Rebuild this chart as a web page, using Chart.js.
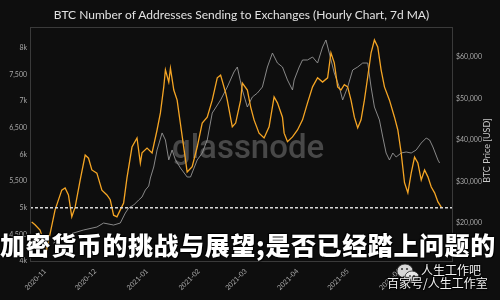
<!DOCTYPE html>
<html>
<head>
<meta charset="utf-8">
<script src="https://cdn.jsdelivr.net/npm/chart.js@4.4.1/dist/chart.umd.min.js"></script>
<style>
  html, body { margin:0; padding:0; background:#0e0e0e; }
  #wrap { position:relative; width:500px; height:300px; overflow:hidden; background:#0e0e0e; }
  canvas { display:block; }
  .title { position:absolute; left:30px; width:423px; top:7px; text-align:center; font-family:Lato; font-size:12px; line-height:15px; color:#e2e2e2; white-space:nowrap; }
  .cn-banner { position:absolute; left:0; top:227px; font-family:"Noto Sans CJK SC"; font-weight:900; font-size:25px; line-height:34px; color:#fff; white-space:nowrap; letter-spacing:0.6px; text-shadow:0 0 2px #000, 1px 1px 1px #000, -1px -1px 1px #000; }
  .wm { position:absolute; font-family:"Noto Sans CJK SC"; font-size:12px; line-height:14px; color:#f2f2f2; white-space:nowrap; text-shadow:0 0 2px #000, 1px 1px 1px #000, -1px -1px 1px #000; }
</style>
</head>
<body>
<div id="wrap">
  <canvas id="c" width="500" height="300"></canvas>
  <div class="title" id="title"></div>
  <div class="cn-banner">加密货币的挑战与展望;是否已经踏上问题的</div>
  <svg style="position:absolute;left:396px;top:262px" width="26" height="24">
    <ellipse cx="9" cy="9" rx="8" ry="7" fill="#d8d8d8" stroke="#222" stroke-width="0.8"/>
    <ellipse cx="16" cy="15" rx="7" ry="6" fill="#e8e8e8" stroke="#222" stroke-width="0.8"/>
    <circle cx="6" cy="7" r="1" fill="#333"/><circle cx="11" cy="7" r="1" fill="#333"/>
    <circle cx="14" cy="14" r="0.9" fill="#333"/><circle cx="18" cy="14" r="0.9" fill="#333"/>
  </svg>
  <div class="wm" style="left:421px;top:263px;">人生工作吧</div>
  <div class="wm" style="left:387px;top:276px;">百家号/人生工作室</div>
</div>
<script>
// ---- data ----
const addrDates = ["2020-10-24","2020-10-26","2020-10-29","2020-11-02","2020-11-07","2020-11-11","2020-11-13","2020-11-15","2020-11-17","2020-11-19","2020-11-22","2020-11-25","2020-11-27","2020-11-29","2020-12-02","2020-12-05","2020-12-08","2020-12-10","2020-12-12","2020-12-14","2020-12-16","2020-12-18","2020-12-20","2020-12-23","2020-12-26","2020-12-28","2020-12-29","2021-01-01","2021-01-04","2021-01-07","2021-01-09","2021-01-11","2021-01-12","2021-01-14","2021-01-15","2021-01-17","2021-01-19","2021-01-21","2021-01-24","2021-01-25","2021-01-28","2021-01-31","2021-02-03","2021-02-06","2021-02-09","2021-02-12","2021-02-14","2021-02-17","2021-02-18","2021-02-21","2021-02-23","2021-02-26","2021-02-27","2021-03-02","2021-03-04","2021-03-06","2021-03-09","2021-03-12","2021-03-15","2021-03-18","2021-03-20","2021-03-23","2021-03-24","2021-03-26","2021-03-29","2021-04-01","2021-04-04","2021-04-07","2021-04-10","2021-04-13","2021-04-16","2021-04-19","2021-04-21","2021-04-23","2021-04-25","2021-04-27","2021-04-29","2021-05-01","2021-05-03","2021-05-05","2021-05-07","2021-05-09","2021-05-11","2021-05-13","2021-05-15","2021-05-17","2021-05-19","2021-05-21","2021-05-23","2021-05-26","2021-05-29","2021-05-31","2021-06-02","2021-06-04","2021-06-06","2021-06-08","2021-06-10","2021-06-12","2021-06-14","2021-06-16","2021-06-18","2021-06-20","2021-06-22","2021-06-24","2021-06-26"];
const addresses = [4730,4680,4580,4210,4960,5330,5370,5240,4830,5010,5520,5990,5930,5710,5650,5330,5240,5150,4860,4830,4960,5090,5560,6140,6310,5840,6030,6120,6030,6460,6780,7270,7590,7360,7620,7210,7020,6570,5900,5670,5770,6140,6590,6700,7020,7440,7490,7160,7020,6520,6590,7020,7340,7210,6890,6650,6400,6310,6520,7080,6970,6700,6400,6240,6330,6460,6650,6970,7270,7440,7360,7440,7910,7720,7270,7210,7310,7270,7020,6700,6500,6650,7020,7460,7910,8150,8020,7590,7270,7020,6700,6460,6030,5470,5280,5650,5950,5840,5520,5710,5580,5390,5280,5110,5010];

const priceDates = ["2020-11-06","2020-11-12","2020-11-16","2020-11-24","2020-12-02","2020-12-06","2020-12-12","2020-12-16","2020-12-19","2020-12-21","2020-12-24","2020-12-27","2020-12-29","2020-12-31","2021-01-02","2021-01-03","2021-01-05","2021-01-07","2021-01-10","2021-01-12","2021-01-14","2021-01-16","2021-01-18","2021-01-21","2021-01-25","2021-01-27","2021-01-31","2021-02-03","2021-02-06","2021-02-09","2021-02-14","2021-02-18","2021-02-22","2021-02-24","2021-02-27","2021-03-02","2021-03-05","2021-03-08","2021-03-11","2021-03-14","2021-03-17","2021-03-20","2021-03-23","2021-03-26","2021-03-29","2021-03-30","2021-04-02","2021-04-04","2021-04-07","2021-04-10","2021-04-13","2021-04-16","2021-04-18","2021-04-20","2021-04-23","2021-04-26","2021-04-28","2021-05-01","2021-05-04","2021-05-07","2021-05-10","2021-05-13","2021-05-15","2021-05-17","2021-05-20","2021-05-22","2021-05-24","2021-05-26","2021-05-28","2021-05-30","2021-06-02","2021-06-05","2021-06-08","2021-06-11","2021-06-14","2021-06-17","2021-06-19","2021-06-21","2021-06-24","2021-06-25"];
const btcPrice = [15170,16620,17340,18310,19030,19990,19510,19990,22400,23610,24330,25540,26260,27950,28910,30840,33490,37600,41700,40000,35200,37600,35200,33250,31080,31080,35180,36860,40000,46500,49640,52770,56390,57590,52050,47950,50360,51320,52770,57590,60960,58550,57590,54460,52050,54460,57590,59280,59280,60000,58550,62410,64100,60960,56140,52770,49640,52770,56870,57590,58550,58550,52770,47950,44820,40720,36860,35180,36860,35900,36860,37110,36860,37590,39270,40480,40000,38310,35180,34450];

const monthTicks = ["2020-11-01","2020-12-01","2021-01-01","2021-02-01","2021-03-01","2021-04-01","2021-05-01","2021-06-01"];
const monthLabels = ["2020-11","2020-12","2021-01","2021-02","2021-03","2021-04","2021-05","2021-06"];
const addrTicks = [4000,4500,5000,5500,6000,6500,7000,7500,8000];
const priceTicks = [20000,30000,40000,50000,60000];
const thresholdValue = 5000;
const xRange = ["2020-10-23","2021-07-03"];
const addrRange = [3981, 8394];
const priceRange = [10600, 67230];

const titleText = "BTC Number of Addresses Sending to Exchanges (Hourly Chart, 7d MA)";
const rightAxisTitle = "BTC Price [USD]";
const watermarkText = "glassnode";

document.getElementById("title").textContent = titleText;

// ---- helpers ----
const BASE = Date.UTC(2020, 10, 1);
function dayOf(s){ const p = s.split("-").map(Number); return (Date.UTC(p[0], p[1]-1, p[2]) - BASE) / 86400000; }
const tickDays = monthTicks.map(dayOf);

const addrData = addrDates.map((d,i)=>({x:dayOf(d), y:addresses[i]}));
const priceData = priceDates.map((d,i)=>({x:dayOf(d), y:btcPrice[i]}));

const tickFont = {family:"Lato", size:7};
const tickColor = "#a8a8a8";

const decor = {
  id:"decor",
  beforeDatasetsDraw(chart){
    const {ctx} = chart;
    ctx.save();
    ctx.font = "500 33px Roboto";
    ctx.fillStyle = "rgba(120,120,120,0.55)";
    ctx.textBaseline = "alphabetic";
    ctx.fillText(watermarkText, 172, 158);
    ctx.restore();
  },
  afterDatasetsDraw(chart){
    const {ctx, chartArea:a, scales} = chart;
    ctx.save();
    const y = scales.y.getPixelForValue(thresholdValue);
    ctx.strokeStyle = "#d8d8d8";
    ctx.lineWidth = 1.5;
    ctx.setLineDash([3,2]);
    ctx.beginPath(); ctx.moveTo(a.left, y); ctx.lineTo(a.right, y); ctx.stroke();
    ctx.setLineDash([]);
    ctx.strokeStyle = "#3a3a3a";
    ctx.lineWidth = 1;
    ctx.strokeRect(a.left+0.5, a.top+0.5, a.right-a.left-1, a.bottom-a.top-1);
    ctx.restore();
  },
  afterDraw(chart){
    const {ctx, chartArea:a} = chart;
    ctx.save();
    ctx.translate(487, (a.top+a.bottom)/2 + 6);
    ctx.rotate(-Math.PI/2);
    ctx.font = "9px Lato";
    ctx.fillStyle = "#c8c8c8";
    ctx.textAlign = "center";
    ctx.textBaseline = "middle";
    ctx.fillText(rightAxisTitle, 0, 0);
    ctx.restore();
  }
};

new Chart(document.getElementById("c"), {
  type: "line",
  data: {
    datasets: [
      { label:"Addresses", data:addrData, yAxisID:"y", borderColor:"#f5a524", borderWidth:1.3, pointRadius:0, tension:0, order:0 },
      { label:"BTC Price", data:priceData, yAxisID:"y1", borderColor:"rgba(150,150,150,0.9)", borderWidth:1, pointRadius:0, tension:0, order:1 }
    ]
  },
  options: {
    responsive:false, animation:false, devicePixelRatio:1,
    layout:{ padding:{top:27, left:0, right:0, bottom:0} },
    plugins:{
      legend:{ display:false }, tooltip:{ enabled:false }, title:{ display:false }
    },
    scales:{
      x:{
        type:"linear", min:dayOf(xRange[0]), max:dayOf(xRange[1]),
        grid:{ display:false, drawTicks:false }, border:{ display:false },
        afterBuildTicks(s){ s.ticks = tickDays.map(v=>({value:v})); },
        afterFit(s){ s.height = 38; },
        ticks:{ color:tickColor, font:tickFont, minRotation:45, maxRotation:45, padding:5, autoSkip:false,
          callback(v){ const i = tickDays.indexOf(v); return i>=0 ? monthLabels[i] : ""; } }
      },
      y:{
        position:"left", min:addrRange[0], max:addrRange[1],
        grid:{ display:false, drawTicks:false }, border:{ display:false },
        afterBuildTicks(s){ s.ticks = addrTicks.map(v=>({value:v})); },
        afterFit(s){ s.width = 30; },
        ticks:{ color:tickColor, font:tickFont, padding:3,
          callback(v){ return v % 1000 === 0 ? (v/1000)+"k" : v.toLocaleString("en-US"); } }
      },
      y1:{
        position:"right", min:priceRange[0], max:priceRange[1],
        grid:{ display:false, drawTicks:false }, border:{ display:false },
        afterBuildTicks(s){ s.ticks = priceTicks.map(v=>({value:v})); },
        afterFit(s){ s.width = 47; },
        ticks:{ color:tickColor, font:tickFont, padding:3,
          callback(v){ return "$" + v.toLocaleString("en-US"); } }
      }
    }
  },
  plugins:[decor]
});
</script>
</body>
</html>
